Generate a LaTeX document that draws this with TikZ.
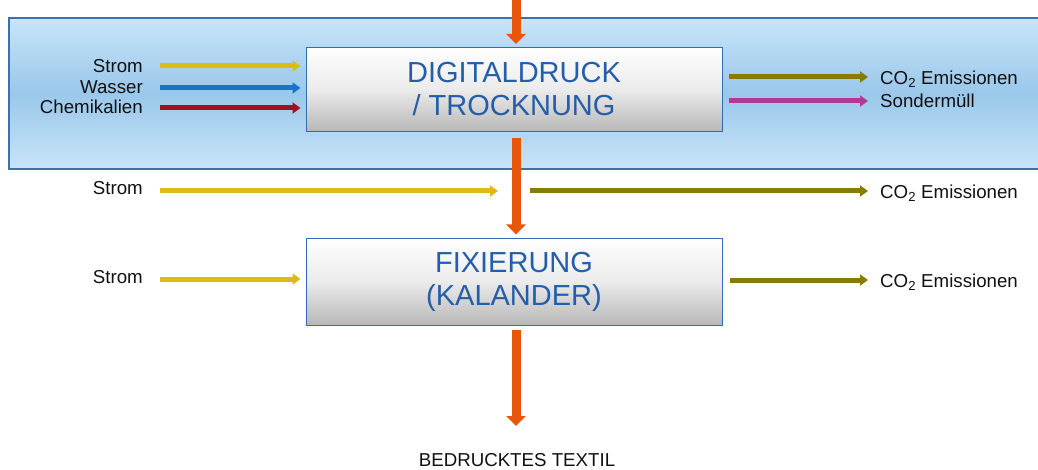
\documentclass[tikz,border=0pt]{standalone}
\usepackage{fontspec}
\setmainfont{Liberation Sans}
\usetikzlibrary{arrows.meta,calc}

\definecolor{bandtop}{HTML}{C8E5F8}
\definecolor{bandmid}{HTML}{9AC7EA}
\definecolor{bandedge}{HTML}{3C70AE}
\definecolor{boxedge}{HTML}{2F6DB5}
\definecolor{boxtext}{HTML}{245EA8}
\definecolor{cstrom}{HTML}{DCBC14}
\definecolor{cwasser}{HTML}{1874C4}
\definecolor{cchem}{HTML}{A01418}
\definecolor{cco}{HTML}{857C00}
\definecolor{cmuell}{HTML}{B23A94}
\definecolor{cflow}{HTML}{E8560C}
\definecolor{labeltext}{HTML}{111111}

\tikzset{
  procbox/.style={draw=boxedge, line width=1pt, minimum width=416pt,
    top color=white, bottom color=black!28, middle color=white!92!black,
    font=\fontsize{29}{33}\selectfont, text=boxtext, align=center, inner sep=0pt},
  lbl/.style={font=\fontsize{18.7}{20}\selectfont, text=labeltext, inner sep=0pt,
    text height=0.72em, text depth=0pt, yshift=-2.5pt},
  inarrow/.style={line width=5pt, -{Triangle[length=8pt,width=11pt]}},
  flow/.style={line width=9pt, cflow, -{Triangle[length=10pt,width=19pt]}}
}

\begin{document}
\begin{tikzpicture}[x=1pt,y=-1pt]
\useasboundingbox (0,0) rectangle (1038,470);
\fill[white] (0,0) rectangle (1038,470);

% light blue band around the printing stage
\shade[top color=bandtop, bottom color=bandtop, middle color=bandmid]
  (9,18) rectangle (1045,169);
\draw[bandedge, line width=1.3pt] (1045,18) -- (9,18) -- (9,169) -- (1045,169);

% process boxes
\node[procbox, minimum height=84pt] (druck) at (514,89.5)
  {DIGITALDRUCK\\/ TROCKNUNG};
\node[procbox, minimum height=86pt] (fix) at (514,282)
  {FIXIERUNG\\(KALANDER)};

% main textile flow
\coordinate (otop) at (516,-2);
\coordinate (oend) at (516,426);
\node[lbl, anchor=center] (textil) at (517,460) {BEDRUCKTES TEXTIL};
\draw[flow, shorten >=3pt] (otop) -- (druck.north -| otop);
\draw[flow, shorten <=6pt, shorten >=4pt] (druck.south -| otop) -- (fix.north -| otop);
\draw[flow, shorten <=4pt] (fix.south -| otop) -- (oend);

% inputs of the printing stage
\node[lbl, anchor=east] (s1) at (143,66) {Strom};
\node[lbl, anchor=east] (w1) at (143,87) {Wasser};
\node[lbl, anchor=east] (c1) at (143,107) {Chemikalien};
\coordinate (s1a) at (160,66);
\coordinate (w1a) at (160,88);
\coordinate (c1a) at (160,108);
\draw[inarrow, cstrom, shorten >=5pt] (s1a) -- (s1a -| druck.west);
\draw[inarrow, cwasser, shorten >=5pt] (w1a) -- (w1a -| druck.west);
\draw[inarrow, cchem, shorten >=5pt] (c1a) -- (c1a -| druck.west);

% outputs of the printing stage
\node[lbl, anchor=west] (e1) at (880,78) {CO\textsubscript{2} Emissionen};
\node[lbl, anchor=west] (m1) at (880,101) {Sondermüll};
\coordinate (e1a) at (868,77);
\coordinate (m1a) at (868,101);
\draw[inarrow, cco, shorten <=6pt] (e1a -| druck.east) -- (e1a);
\draw[inarrow, cmuell, shorten <=6pt] (m1a -| druck.east) -- (m1a);

% energy and emissions between the stages
\node[lbl, anchor=east] (s2) at (143,188) {Strom};
\node[lbl, anchor=west] (e2) at (880,192) {CO\textsubscript{2} Emissionen};
\coordinate (s2a) at (160,191);
\coordinate (s2b) at (498,191);
\coordinate (e2a) at (530,191);
\coordinate (e2b) at (868,191);
\draw[inarrow, cstrom] (s2a) -- (s2b);
\draw[inarrow, cco] (e2a) -- (e2b);

% inputs and outputs of the fixing stage
\node[lbl, anchor=east] (s3) at (143,277) {Strom};
\node[lbl, anchor=west] (e3) at (880,281) {CO\textsubscript{2} Emissionen};
\coordinate (s3a) at (160,279);
\coordinate (e3a) at (868,280);
\draw[inarrow, cstrom, shorten >=5pt] (s3a) -- (s3a -| fix.west);
\draw[inarrow, cco, shorten <=7pt] (e3a -| fix.east) -- (e3a);
\end{tikzpicture}
\end{document}
